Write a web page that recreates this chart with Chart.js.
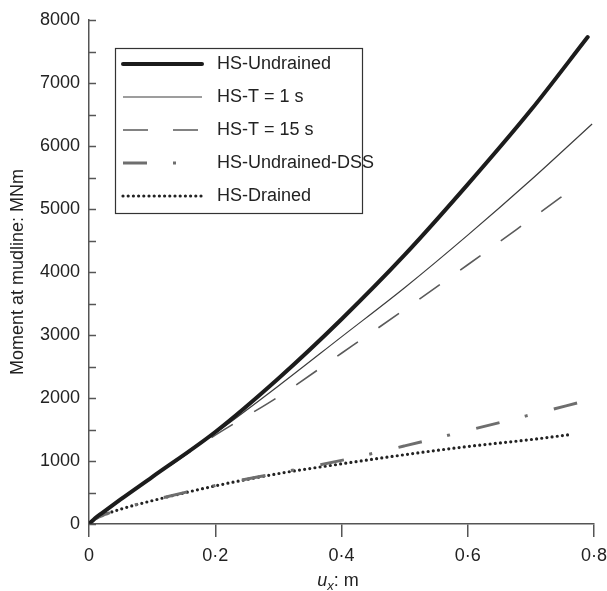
<!DOCTYPE html>
<html>
<head>
<meta charset="utf-8">
<title>Moment at mudline</title>
<script src="https://cdn.jsdelivr.net/npm/chart.js@4/dist/chart.umd.min.js"></script>
<style>
  html, body { margin: 0; padding: 0; background: #fff; }
  #wrap { width: 607px; height: 591px; }
</style>
</head>
<body>
<div id="wrap"><canvas id="momentChart"></canvas></div>
<script>
// displacement ux (m) and moment at mudline (MNm) for each analysis
const uxUndrained = [0, 0.01, 0.02, 0.05, 0.1, 0.2, 0.3, 0.4, 0.5, 0.6, 0.7, 0.79];
const momentUndrained = [0, 95, 170, 390, 745, 1460, 2310, 3250, 4270, 5390, 6570, 7730];

const uxT1 = [0, 0.01, 0.02, 0.05, 0.1, 0.2, 0.3, 0.4, 0.5, 0.6, 0.7, 0.797];
const momentT1 = [0, 95, 170, 390, 740, 1440, 2190, 2970, 3750, 4585, 5460, 6350];

const uxT15 = [0, 0.01, 0.02, 0.05, 0.1, 0.2, 0.3, 0.4, 0.5, 0.6, 0.7, 0.77];
const momentT15 = [0, 95, 170, 390, 735, 1410, 2020, 2710, 3405, 4115, 4840, 5350];

const uxDSS = [0, 0.01, 0.02, 0.05, 0.1, 0.2, 0.3, 0.4, 0.5, 0.6, 0.7, 0.783];
const momentDSS = [0, 80, 130, 235, 375, 610, 810, 1010, 1240, 1485, 1734, 1945];

const uxDrained = [0, 0.01, 0.02, 0.05, 0.1, 0.2, 0.3, 0.4, 0.5, 0.6, 0.7, 0.76];
const momentDrained = [0, 80, 130, 235, 370, 605, 800, 955, 1100, 1230, 1340, 1416];

const seriesLabels = ['HS-Undrained', 'HS-T = 1 s', 'HS-T = 15 s', 'HS-Undrained-DSS', 'HS-Drained'];

const xTicks = [0, 0.2, 0.4, 0.6, 0.8];
const yMax = 8000;

const FONT = '"Liberation Sans", Arial, Helvetica, sans-serif';
const AXIS = '#555';
const INK = '#222';

function toPoints(xs, ys) {
    return xs.map((x, i) => ({ x: x, y: ys[i] }));
}

// short tick marks pointing into the plot on the y axis
const innerTicks = {
    id: 'innerTicks',
    afterDraw(chart) {
        const { ctx, scales } = chart;
        const y = scales.y;
        const left = chart.chartArea.left;
        ctx.save();
        ctx.strokeStyle = AXIS;
        ctx.lineWidth = 1.5;
        y.ticks.forEach(t => {
            const py = Math.round(y.getPixelForValue(t.value)) + 0.5;
            ctx.beginPath();
            ctx.moveTo(left, py);
            ctx.lineTo(left + 7, py);
            ctx.stroke();
        });
        ctx.restore();
    }
};

// x axis title with italic u and subscript x
const xTitle = {
    id: 'xTitle',
    afterDraw(chart) {
        const { ctx } = chart;
        const cx = 338;
        const base = 586;
        ctx.save();
        ctx.fillStyle = INK;
        ctx.textBaseline = 'alphabetic';
        const fMain = 'italic 18px ' + FONT;
        const fSub = 'italic 13px ' + FONT;
        const fRest = '18px ' + FONT;
        ctx.font = fMain; const wU = ctx.measureText('u').width;
        ctx.font = fSub; const wX = ctx.measureText('x').width;
        ctx.font = fRest; const wR = ctx.measureText(': m').width;
        let x = cx - (wU + wX + wR) / 2;
        ctx.font = fMain; ctx.fillText('u', x, base); x += wU;
        ctx.font = fSub; ctx.fillText('x', x, base + 4); x += wX;
        ctx.font = fRest; ctx.fillText(': m', x, base);
        ctx.restore();
    }
};

// boxed legend inside the plot area, built from the dataset styles
const boxLegend = {
    id: 'boxLegend',
    afterDatasetsDraw(chart) {
        const { ctx } = chart;
        const bx = 115.5, by = 48.5, bw = 247, bh = 165;
        ctx.save();
        ctx.fillStyle = '#fff';
        ctx.fillRect(bx, by, bw, bh);
        ctx.strokeStyle = '#333';
        ctx.lineWidth = 1.2;
        ctx.strokeRect(bx, by, bw, bh);

        chart.data.datasets.forEach((ds, i) => {
            const ry = 64 + i * 33;
            ctx.save();
            ctx.strokeStyle = ds.borderColor;
            ctx.lineWidth = ds.borderWidth;
            ctx.lineCap = ds.borderCapStyle || 'butt';
            ctx.setLineDash(ds.borderDash || []);
            ctx.beginPath();
            ctx.moveTo(123, ry);
            ctx.lineTo(202, ry);
            ctx.stroke();
            ctx.restore();

            ctx.fillStyle = INK;
            ctx.font = '18px ' + FONT;
            ctx.textBaseline = 'middle';
            ctx.fillText(ds.label, 217, ry);
        });
        ctx.restore();
    }
};

const data = {
    datasets: [
        {
            label: seriesLabels[0],
            data: toPoints(uxUndrained, momentUndrained),
            borderColor: '#1c1c1c',
            borderWidth: 4,
            borderCapStyle: 'round'
        },
        {
            label: seriesLabels[1],
            data: toPoints(uxT1, momentT1),
            borderColor: '#3c3c3c',
            borderWidth: 1.2
        },
        {
            label: seriesLabels[2],
            data: toPoints(uxT15, momentT15),
            borderColor: '#5a5a5a',
            borderWidth: 1.6,
            borderDash: [25, 25]
        },
        {
            label: seriesLabels[3],
            data: toPoints(uxDSS, momentDSS),
            borderColor: '#6e6e6e',
            borderWidth: 3,
            borderDash: [24, 26, 3, 27]
        },
        {
            label: seriesLabels[4],
            data: toPoints(uxDrained, momentDrained),
            borderColor: '#222',
            borderWidth: 3.2,
            borderCapStyle: 'round',
            borderDash: [0, 5.2]
        }
    ]
};

const config = {
    type: 'line',
    data: data,
    options: {
        responsive: true,
        maintainAspectRatio: false,
        animation: false,
        layout: { padding: { top: 20, right: 0, left: 0, bottom: 0 } },
        elements: {
            point: { radius: 0, hoverRadius: 0 },
            line: { fill: false, cubicInterpolationMode: 'monotone' }
        },
        plugins: {
            legend: { display: false },
            tooltip: { enabled: false }
        },
        scales: {
            x: {
                type: 'linear',
                min: 0,
                max: 0.8,
                afterBuildTicks: scale => {
                    scale.ticks = xTicks.map(v => ({ value: v }));
                },
                afterFit: scale => {
                    scale.height = 67;
                    scale.paddingLeft = 0;
                    scale.paddingRight = 13;
                },
                border: { display: true, color: AXIS, width: 1.5 },
                grid: {
                    drawOnChartArea: false,
                    drawTicks: true,
                    tickLength: 13,
                    color: AXIS,
                    lineWidth: 1.5
                },
                ticks: {
                    padding: 8,
                    color: INK,
                    font: { family: FONT, size: 18 },
                    maxRotation: 0,
                    callback: v => v === 0 ? '0' : v.toFixed(1).replace('.', '\u00b7')
                }
            },
            y: {
                min: 0,
                max: yMax,
                afterFit: scale => { scale.width = 89; },
                border: { display: true, color: AXIS, width: 1.5 },
                grid: { drawOnChartArea: false, drawTicks: false },
                title: {
                    display: true,
                    text: 'Moment at mudline: MNm',
                    color: INK,
                    font: { family: FONT, size: 18 },
                    padding: { top: 7, bottom: 0 }
                },
                ticks: {
                    stepSize: 500,
                    autoSkip: false,
                    padding: 9,
                    color: INK,
                    font: { family: FONT, size: 18 },
                    callback: v => v % 1000 === 0 ? String(v) : ''
                }
            }
        }
    },
    plugins: [innerTicks, boxLegend, xTitle]
};

const ctx = document.getElementById('momentChart').getContext('2d');
const momentChart = new Chart(ctx, config);
</script>
</body>
</html>
